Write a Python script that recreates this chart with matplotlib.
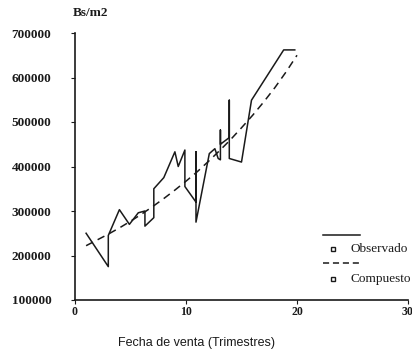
import matplotlib
matplotlib.use("Agg")
import matplotlib.pyplot as plt

# valores (trimestre, Bs/m2)
obs_x = [1, 3, 3, 4, 4.9, 5.7, 6.3, 6.3, 7.1, 7.1, 8, 9, 9.3, 9.9, 9.9,
         10.9, 10.9, 10.9, 12.1, 12.6, 12.9, 13.1, 13.1, 13.1, 13.9, 13.9, 13.9,
         15, 15.9, 18.8, 19.8]
obs_y = [250000, 175000, 245000, 303000, 270000, 296000, 300000, 266000, 285000, 350000,
         375000, 433000, 400000, 437000, 355000,
         320000, 433000, 275000, 429000, 440000, 418000, 415000, 482000, 450000,
         465000, 549000, 418000, 410000, 549000, 662000, 662000]

fit_x = list(range(1, 21))
fit_y = [222000, 235000, 248000, 262000, 277000, 293000, 310000, 328000, 347000, 367000,
         388000, 411000, 435000, 460000, 487000, 515000, 545000, 577000, 612000, 650000]

yticks = [100000, 200000, 300000, 400000, 500000, 600000, 700000]
xticks = [0, 10, 20, 30]

ink = "#1a1a1a"
serif = "Liberation Serif"

fig = plt.figure(figsize=(4.12, 3.49), dpi=100)
ax = fig.add_axes([75 / 412, 49 / 349, 333 / 412, 267 / 349])

ax.plot(obs_x, obs_y, color=ink, lw=1.1)
ax.plot(fit_x, fit_y, color=ink, lw=1.1, dashes=(5, 3.5))

ax.set_xlim(0, 30)
ax.set_ylim(100000, 700000)
ax.set_xticks(xticks)
ax.set_yticks(yticks)
ax.set_xticklabels([str(t) for t in xticks], fontfamily=serif, fontweight="bold", fontsize=8.5)
ax.set_yticklabels([str(t) for t in yticks], fontfamily=serif, fontweight="bold", fontsize=9.5)
ax.tick_params(axis="both", length=3, width=0.8, color=ink, labelcolor=ink)
ax.tick_params(axis="y", pad=14)
ax.tick_params(axis="x", pad=1.5)

for s in ["top", "right"]:
    ax.spines[s].set_visible(False)
for s in ["left", "bottom"]:
    ax.spines[s].set_color(ink)
    ax.spines[s].set_linewidth(1.2)

ax.text(-0.006, 1.075, "Bs/m2", transform=ax.transAxes, fontfamily=serif,
        fontweight="bold", fontsize=9.5, color=ink, ha="left", va="center")

# leyenda a mano, estilo SPSS
ax.plot([0.745, 0.856], [0.243, 0.243], transform=ax.transAxes, color=ink, lw=1.1, clip_on=False)
ax.plot([0.775], [0.191], transform=ax.transAxes, marker="s", ms=3.5, mfc="white",
        mec=ink, mew=1, clip_on=False)
ax.text(0.826, 0.191, "Observado", transform=ax.transAxes, fontfamily=serif,
        fontsize=9.5, color=ink, va="center", ha="left")
ax.plot([0.745, 0.856], [0.139, 0.139], transform=ax.transAxes, color=ink, lw=1.1,
        dashes=(4, 2.5), clip_on=False)
ax.plot([0.775], [0.08], transform=ax.transAxes, marker="s", ms=3.5, mfc="white",
        mec=ink, mew=1, clip_on=False)
ax.text(0.826, 0.08, "Compuesto", transform=ax.transAxes, fontfamily=serif,
        fontsize=9.5, color=ink, va="center", ha="left")

fig.text(197 / 412, 1 - 343 / 349, "Fecha de venta (Trimestres)", fontfamily="Liberation Sans",
         fontsize=9, color=ink, ha="center", va="center")

fig.savefig("out.png", dpi=100)
